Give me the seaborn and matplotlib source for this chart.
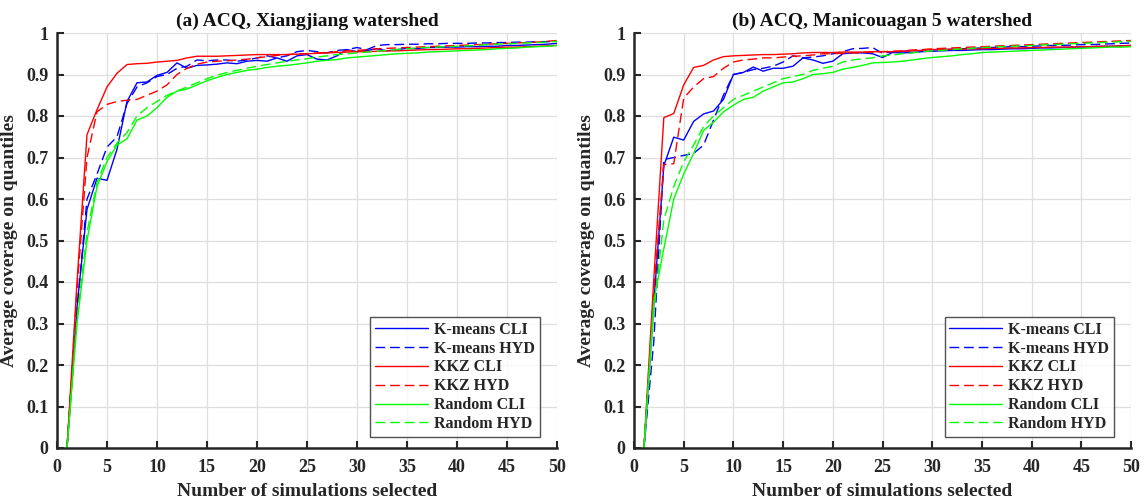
import matplotlib
matplotlib.use('Agg')
import matplotlib.pyplot as plt
import seaborn as sns
import numpy as np

# x axis: number of selected simulations
N_SIM = list(range(1, 51))

# (a) Xiangjiang watershed
A_KM_CLI = [0, 0.34, 0.575, 0.65, 0.645, 0.72, 0.835, 0.88, 0.882, 0.898,
            0.905, 0.928, 0.915, 0.922, 0.923, 0.925, 0.928, 0.926, 0.932, 0.934,
            0.932, 0.94, 0.932, 0.945, 0.948, 0.937, 0.935, 0.945, 0.96, 0.955,
            0.958, 0.962, 0.957, 0.96, 0.963, 0.962, 0.965, 0.965, 0.966, 0.966,
            0.967, 0.967, 0.968, 0.968, 0.97, 0.97, 0.971, 0.972, 0.973, 0.975]
A_KM_HYD = [0, 0.33, 0.6, 0.66, 0.725, 0.75, 0.83, 0.87, 0.88, 0.895,
            0.9, 0.915, 0.92, 0.935, 0.933, 0.935, 0.935, 0.932, 0.935, 0.94,
            0.945, 0.94, 0.945, 0.955, 0.958, 0.955, 0.952, 0.958, 0.96, 0.965,
            0.96, 0.97, 0.972, 0.972, 0.973, 0.973, 0.974, 0.974, 0.975, 0.975,
            0.975, 0.976, 0.976, 0.977, 0.977, 0.978, 0.978, 0.979, 0.979, 0.98]
A_KKZ_CLI = [0, 0.4, 0.755, 0.815, 0.87, 0.903, 0.924, 0.926, 0.927, 0.93,
             0.932, 0.934, 0.94, 0.944, 0.944, 0.944, 0.945, 0.946, 0.947, 0.948,
             0.948, 0.948, 0.948, 0.949, 0.95, 0.951, 0.952, 0.953, 0.954, 0.955,
             0.955, 0.956, 0.957, 0.957, 0.958, 0.959, 0.96, 0.96, 0.961, 0.962,
             0.962, 0.963, 0.964, 0.965, 0.966, 0.966, 0.967, 0.968, 0.969, 0.97]
A_KKZ_HYD = [0, 0.38, 0.7, 0.81, 0.828, 0.835, 0.838, 0.84, 0.85, 0.86,
             0.875, 0.9, 0.915, 0.925, 0.93, 0.932, 0.933, 0.935, 0.937, 0.94,
             0.943, 0.946, 0.948, 0.95, 0.95, 0.952, 0.953, 0.955, 0.957, 0.958,
             0.96, 0.962, 0.963, 0.964, 0.965, 0.966, 0.967, 0.968, 0.969, 0.97,
             0.971, 0.972, 0.973, 0.974, 0.975, 0.976, 0.977, 0.978, 0.98, 0.982]
A_RND_CLI = [0, 0.3, 0.5, 0.63, 0.69, 0.73, 0.745, 0.79, 0.8, 0.82,
             0.845, 0.86, 0.865, 0.875, 0.885, 0.893, 0.9, 0.905, 0.91, 0.913,
             0.917, 0.92, 0.922, 0.925, 0.928, 0.932, 0.934, 0.936, 0.94, 0.942,
             0.944, 0.946, 0.948, 0.95, 0.951, 0.952, 0.954, 0.955, 0.956, 0.957,
             0.958, 0.959, 0.96, 0.962, 0.963, 0.964, 0.966, 0.967, 0.968, 0.97]
A_RND_HYD = [0, 0.31, 0.52, 0.64, 0.7, 0.735, 0.76, 0.8, 0.82, 0.835,
             0.85, 0.86, 0.87, 0.88, 0.89, 0.898, 0.905, 0.91, 0.915, 0.92,
             0.924, 0.928, 0.932, 0.935, 0.938, 0.942, 0.945, 0.948, 0.95, 0.952,
             0.954, 0.956, 0.958, 0.96, 0.962, 0.964, 0.965, 0.966, 0.967, 0.968,
             0.969, 0.97, 0.972, 0.973, 0.974, 0.975, 0.976, 0.977, 0.978, 0.98]

# (b) Manicouagan 5 watershed
B_KM_CLI = [0, 0.35, 0.68, 0.749, 0.742, 0.787, 0.805, 0.812, 0.84, 0.9,
            0.905, 0.918, 0.908, 0.915, 0.915, 0.92, 0.94, 0.935, 0.927, 0.932,
            0.95, 0.952, 0.952, 0.95, 0.941, 0.953, 0.952, 0.953, 0.955, 0.956,
            0.957, 0.958, 0.958, 0.959, 0.96, 0.96, 0.961, 0.962, 0.962, 0.963,
            0.964, 0.964, 0.965, 0.966, 0.966, 0.967, 0.968, 0.968, 0.969, 0.97]
B_KM_HYD = [0, 0.26, 0.695, 0.7, 0.705, 0.71, 0.73, 0.79, 0.85, 0.9,
            0.905, 0.912, 0.915, 0.92, 0.93, 0.945, 0.94, 0.942, 0.945, 0.95,
            0.955, 0.962, 0.963, 0.965, 0.951, 0.955, 0.956, 0.957, 0.958, 0.96,
            0.96, 0.961, 0.962, 0.963, 0.964, 0.965, 0.966, 0.967, 0.967, 0.968,
            0.969, 0.97, 0.97, 0.971, 0.972, 0.972, 0.973, 0.974, 0.975, 0.976]
B_KKZ_CLI = [0, 0.41, 0.796, 0.806, 0.875, 0.917, 0.922, 0.935, 0.943, 0.945,
             0.946, 0.947, 0.948, 0.948, 0.949, 0.95, 0.952, 0.953, 0.953, 0.953,
             0.954, 0.954, 0.954, 0.955, 0.955, 0.955, 0.956, 0.957, 0.958, 0.96,
             0.96, 0.961, 0.961, 0.962, 0.962, 0.963, 0.963, 0.964, 0.964, 0.965,
             0.965, 0.966, 0.966, 0.966, 0.967, 0.967, 0.968, 0.968, 0.969, 0.97]
B_KKZ_HYD = [0, 0.38, 0.683, 0.685, 0.843, 0.87, 0.89, 0.895, 0.915, 0.93,
             0.935, 0.937, 0.94, 0.94, 0.942, 0.944, 0.945, 0.947, 0.95, 0.95,
             0.951, 0.952, 0.953, 0.954, 0.955, 0.956, 0.957, 0.959, 0.96, 0.962,
             0.963, 0.964, 0.965, 0.966, 0.967, 0.968, 0.969, 0.97, 0.971, 0.972,
             0.973, 0.974, 0.975, 0.976, 0.977, 0.978, 0.979, 0.98, 0.981, 0.982]
B_RND_CLI = [0, 0.355, 0.48, 0.6, 0.66, 0.71, 0.765, 0.785, 0.81, 0.826,
             0.84, 0.845, 0.86, 0.87, 0.88, 0.882, 0.89, 0.9, 0.902, 0.905,
             0.913, 0.917, 0.922, 0.928, 0.929, 0.93, 0.932, 0.935, 0.938, 0.941,
             0.943, 0.945, 0.948, 0.95, 0.953, 0.954, 0.955, 0.956, 0.957, 0.958,
             0.959, 0.96, 0.961, 0.962, 0.963, 0.964, 0.965, 0.966, 0.966, 0.967]
B_RND_HYD = [0, 0.33, 0.55, 0.63, 0.69, 0.73, 0.775, 0.8, 0.82, 0.84,
             0.85, 0.86, 0.87, 0.88, 0.89, 0.895, 0.9, 0.91, 0.915, 0.92,
             0.93, 0.935, 0.938, 0.94, 0.945, 0.947, 0.95, 0.952, 0.955, 0.957,
             0.958, 0.96, 0.962, 0.963, 0.965, 0.966, 0.967, 0.968, 0.969, 0.97,
             0.971, 0.972, 0.973, 0.974, 0.975, 0.976, 0.977, 0.978, 0.979, 0.98]

LABELS = ['K-means CLI', 'K-means HYD', 'KKZ CLI', 'KKZ HYD', 'Random CLI', 'Random HYD']
COLORS = ['#0000ff', '#0000ff', '#ff0000', '#ff0000', '#00ff00', '#00ff00']
DASHED = [False, True, False, True, False, True]

PANELS = [
    ('(a) ACQ, Xiangjiang watershed',
     [A_KM_CLI, A_KM_HYD, A_KKZ_CLI, A_KKZ_HYD, A_RND_CLI, A_RND_HYD]),
    ('(b) ACQ, Manicouagan 5 watershed',
     [B_KM_CLI, B_KM_HYD, B_KKZ_CLI, B_KKZ_HYD, B_RND_CLI, B_RND_HYD]),
]

sns.set_style('ticks')
plt.rcParams['font.family'] = ['Liberation Serif', 'DejaVu Serif']
plt.rcParams['font.weight'] = 'bold'
plt.rcParams['axes.labelweight'] = 'bold'
plt.rcParams['axes.titleweight'] = 'bold'

fig = plt.figure(figsize=(11.47, 5.03), dpi=100)
axes = [fig.add_axes([57 / 1147, 55 / 503, 500 / 1147, 415 / 503]),
        fig.add_axes([634 / 1147, 55 / 503, 497 / 1147, 415 / 503])]

for ax, (title, series) in zip(axes, PANELS):
    for vals, lab, col, dsh in zip(series, LABELS, COLORS, DASHED):
        sns.lineplot(x=N_SIM, y=vals, ax=ax, color=col, linewidth=1.0,
                     label=lab, dashes=False)
        if dsh:
            ax.lines[-1].set_dashes((7, 3.5))

    ax.set_xlim(0, 50)
    ax.set_ylim(0, 1)
    ax.set_xticks(np.arange(0, 51, 5))
    ax.set_yticks(np.arange(0, 1.01, 0.1))
    ax.set_yticklabels(['0'] + [f'{v:.1f}' for v in np.arange(0.1, 0.95, 0.1)] + ['1'])
    ax.grid(True, color='#dedede', linewidth=0.9)
    ax.set_axisbelow(True)
    for s in ['top', 'right']:
        ax.spines[s].set_visible(False)
    for s in ['left', 'bottom']:
        ax.spines[s].set_linewidth(1.8)
        ax.spines[s].set_color('#262626')
    ax.tick_params(direction='in', length=5, width=1.5, labelsize=13,
                   color='#262626', labelcolor='#262626', pad=6)
    ax.tick_params(axis='x', pad=8)
    for t in ax.get_xticklabels() + ax.get_yticklabels():
        t.set_fontweight('bold')
    ax.set_title(title, fontsize=14, pad=5, color='#111111')
    ax.set_xlabel('Number of simulations selected', fontsize=14, labelpad=5, color='#262626')
    ax.set_ylabel('Average coverage on quantiles', fontsize=14, labelpad=6, color='#262626')
    leg = ax.legend(loc='lower right', fontsize=11.5, frameon=True, fancybox=False,
                    edgecolor='#262626', handlelength=3.3, handletextpad=0.4,
                    labelspacing=0.18, borderpad=0.3, borderaxespad=0,
                    bbox_to_anchor=(0.966, 0.027))
    leg.get_frame().set_linewidth(1.0)
    for txt in leg.get_texts():
        txt.set_fontweight('bold')

fig.savefig('out.png', dpi=100)
